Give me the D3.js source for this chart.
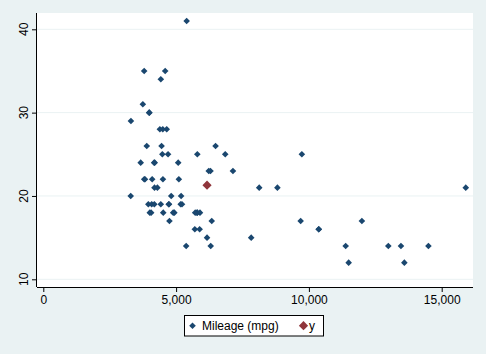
<!DOCTYPE html>
<html><head><meta charset="utf-8">
<script src="https://cdn.jsdelivr.net/npm/d3@7"></script>
<style>body{margin:0;background:#eaf2f3;}svg{display:block;font-family:"Liberation Sans",Arial,sans-serif;}</style>
</head><body><svg id="c" width="486" height="354"></svg>
<script>
const price = [4099,4749,3799,4816,7827,5788,4453,5189,10372,4082,11385,14500,15906,3299,5705,4504,5104,3667,3955,3984,4010,5886,6342,4389,4187,11497,13594,13466,3829,5379,6165,4516,6303,3291,8814,5172,4733,4890,4181,4195,10371,4647,4425,4482,6486,4060,5798,4934,5222,4723,4424,4172,9690,6295,9735,6229,4589,5079,8129,4296,5799,4499,3995,12990,3895,3798,5899,3748,5719,7140,5397,4697,6850,11995];
const mpg = [22,17,22,20,15,18,26,20,16,19,14,14,21,29,16,22,22,24,19,30,18,16,17,28,21,12,12,14,22,14,15,18,14,20,21,19,19,18,19,24,16,28,34,25,26,18,18,18,19,19,19,24,17,23,25,23,35,24,21,21,25,28,30,14,26,35,18,31,18,23,41,25,25,17];
const meanX = [6165.26];
const meanY = [21.297];
const xTicks = [0,5000,10000,15000];
const yTicks = [10,20,30,40];
const legendLabels = ["Mileage (mpg)", "y"];

const svg = d3.select("#c");
const W=486,H=354;
svg.append("rect").attr("width",W).attr("height",H).attr("fill","#eaf2f3");
const L=37,R=473,T=13,B=287;
svg.append("rect").attr("x",L).attr("y",T).attr("width",R-L).attr("height",B-T).attr("fill","#fff");
const x=d3.scaleLinear().domain([0,15000]).range([43.3,441.7]);
const y=d3.scaleLinear().domain([10,40]).range([279.3,29.3]);

// grid
svg.append("g").selectAll("line").data(yTicks).join("line")
 .attr("x1",L).attr("x2",R).attr("y1",d=>y(d)).attr("y2",d=>y(d))
 .attr("stroke","#eaf2f3").attr("stroke-width",1);

// axes
const fmt=d3.format(",");
const xa=svg.append("g").attr("transform",`translate(0,${B})`)
 .call(d3.axisBottom(x).tickValues(xTicks).tickFormat(fmt).tickSize(5).tickSizeOuter(0).tickPadding(3));
xa.select(".domain").attr("d",`M${L},0.5H${R}`).attr("stroke","#000");
xa.selectAll("text").attr("font-size",12).attr("fill","#000").attr("font-family","Liberation Sans, Arial, sans-serif");
const ya=svg.append("g").attr("transform",`translate(${L},0)`)
 .call(d3.axisLeft(y).tickValues(yTicks).tickSize(5).tickSizeOuter(0).tickPadding(3));
ya.select(".domain").attr("d",`M-0.5,${T}V${B}`).attr("stroke","#000");
ya.selectAll("text").attr("font-size",12).attr("fill","#000").attr("font-family","Liberation Sans, Arial, sans-serif")
 .attr("transform",function(d){return `rotate(-90,-9,${y(d)})`;})
 .attr("x",-9).attr("y",d=>y(d)).attr("dy",0).attr("text-anchor","middle");
// fix rotated text placement: baseline to the right
ya.selectAll(".tick").attr("transform",null);
ya.selectAll(".tick line").attr("y1",d=>y(d)+0.5).attr("y2",d=>y(d)+0.5);

const diamond=(cx,cy,r)=>`M${cx},${cy-r}L${cx+r},${cy}L${cx},${cy+r}L${cx-r},${cy}Z`;
const pts=price.map((p,i)=>({p,m:mpg[i]}));
svg.append("g").selectAll("path").data(pts).join("path")
 .attr("d",d=>diamond(x(d.p),y(d.m),3.3)).attr("fill","#1a476f");
svg.append("g").selectAll("path").data(meanX.map((v,i)=>({p:v,m:meanY[i]}))).join("path")
 .attr("d",d=>diamond(x(d.p),y(d.m),4.6)).attr("fill","#90353b");

// legend
const lg=svg.append("g");
lg.append("rect").attr("x",184.5).attr("y",315.5).attr("width",139).attr("height",20.5).attr("fill","#fff").attr("stroke","#000");
lg.append("path").attr("d",diamond(192.5,325.7,3.3)).attr("fill","#1a476f");
lg.append("text").attr("x",202).attr("y",330).attr("font-size",12).text(legendLabels[0]);
lg.append("path").attr("d",diamond(303.5,325.7,4.6)).attr("fill","#90353b");
lg.append("text").attr("x",309).attr("y",330).attr("font-size",12).text(legendLabels[1]);
</script></body></html>
